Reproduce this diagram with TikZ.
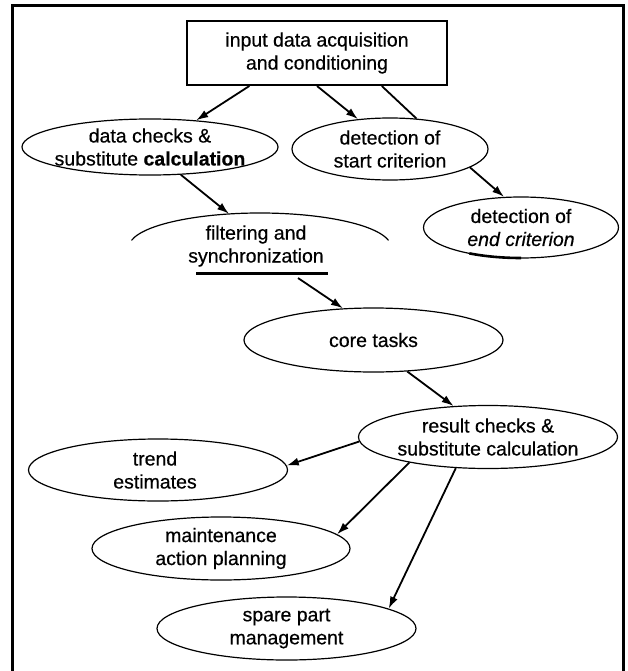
\documentclass[tikz,border=0pt]{standalone}
\usepackage{fontspec}
\setmainfont{Liberation Sans}[FakeBold=0.5]
\usetikzlibrary{shapes.geometric,arrows.meta}
\begin{document}
\begin{tikzpicture}[x=1pt,y=-1pt,
  lbl/.style={font=\fontsize{19.5}{23}\selectfont, align=center, inner sep=0pt},
  every label/.style={lbl},
  oval/.style n args={2}{ellipse, draw, line width=1.2pt, inner sep=0pt,
     minimum width=#1pt, minimum height=#2pt},
  box/.style={lbl, draw, line width=2pt, minimum width=260pt, minimum height=64pt},
  arr/.style={line width=1.8pt, -{Latex[length=12pt,width=8pt]}},
  plain/.style={line width=1.8pt}]
\useasboundingbox (0,0) rectangle (627,671);
\draw[line width=3pt] (12,671) -- (12,6) -- (623,6) -- (623,671);

\node[box] (inp) at (317,53) {input data acquisition\\and conditioning};
\node[oval={256}{56}, label=center:{data checks \&\\substitute {\bfseries calculation}}] (dc) at (150,147) {};
\node[oval={196}{62}, label=center:{detection of\\start criterion}] (st) at (390,149) {};
\node[oval={195}{61}, label=center:{detection of\\\textit{end criterion}}] (en) at (521,227.5) {};
\draw[line width=2.6pt] ([shift={(0,30.5)}]en.center) arc[start angle=90, end angle=122, x radius=97.5, y radius=30.5];
\node[ellipse, inner sep=0pt, minimum width=262pt, minimum height=68pt,
      label={[xshift=-4pt,yshift=1pt]center:{filtering and\\synchronization}}] (filt) at (260,247) {};
\draw[line width=1.2pt] ([shift={(-128.5,-6.6)}]filt.center)
   arc[start angle=191.2, end angle=348.8, x radius=131, y radius=34];
\draw[line width=3pt] ([shift={(-64,26)}]filt.center) -- ([shift={(68,26)}]filt.center);
\coordinate (fs) at ([shift={(38,31)}]filt.center);
\node[oval={259}{64}, label=center:{core tasks}] (core) at (373.5,340) {};
\node[oval={259}{63}, label=center:{result checks \&\\substitute calculation}] (res) at (488,437) {};
\node[oval={259}{62}, label={[xshift=-3pt]center:{trend\\estimates}}] (trend) at (158,470) {};
\node[oval={258}{63}, label=center:{maintenance\\action planning}] (maint) at (221,548.5) {};
\node[oval={259}{63}, label=center:{spare part\\management}] (spare) at (286.5,628.5) {};

\draw[arr] (inp.206.6) -- (dc.30);
\draw[arr] (inp.270) -- (st.137);
\draw[plain] (inp.333.8) -- (st.49);
\draw[arr] (st.-13) -- (en.119);
\draw[arr] (dc.-42) -- (filt.133);
\draw[arr] (fs) -- (core.134.5);
\draw[arr] (core.-43) -- (res.138);
\draw[arr] (res.182) -- (trend.2);
\draw[arr] (res.198) -- (maint.7.7);
\draw[arr] (res.224) -- (spare.11.3);
\end{tikzpicture}
\end{document}
